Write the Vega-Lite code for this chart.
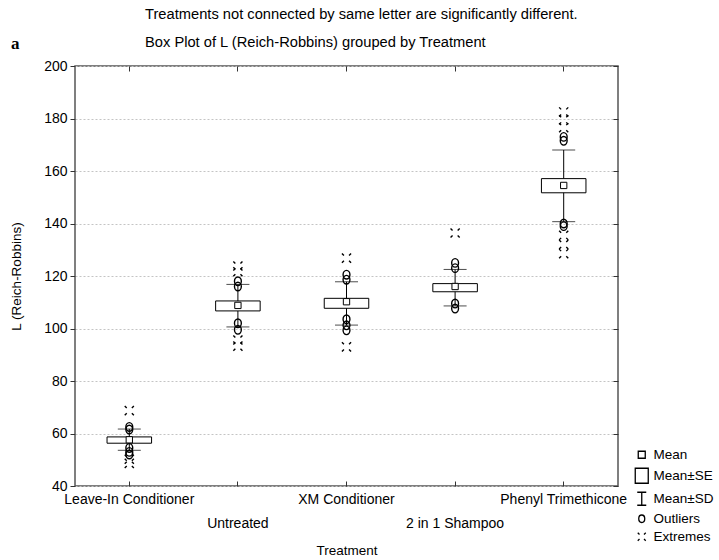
{
  "$schema": "https://vega.github.io/schema/vega-lite/v6.json",
  "background": "white",
  "padding": {"left": 8, "top": 6, "right": 2, "bottom": 2},
  "title": {"text": "a", "font": "Liberation Serif", "fontSize": 17, "fontWeight": "bold", "anchor": "start", "frame": "bounds", "dy": 50, "dx": 2, "color": "black"},
  "datasets": {
    "stats": [
      {"Treatment": "Leave-In Conditioner", "mean": 57.6, "se_lo": 56.3, "se_hi": 58.7, "sd_lo": 53.6, "sd_hi": 61.7},
      {"Treatment": "Untreated", "mean": 108.8, "se_lo": 106.7, "se_hi": 110.5, "sd_lo": 100.6, "sd_hi": 116.8},
      {"Treatment": "XM Conditioner", "mean": 110.2, "se_lo": 107.7, "se_hi": 111.5, "sd_lo": 101.3, "sd_hi": 117.8},
      {"Treatment": "2 in 1 Shampoo", "mean": 116.0, "se_lo": 114.0, "se_hi": 117.1, "sd_lo": 108.6, "sd_hi": 122.5},
      {"Treatment": "Phenyl Trimethicone", "mean": 154.5, "se_lo": 151.7, "se_hi": 157.1, "sd_lo": 140.7, "sd_hi": 168.0}
    ],
    "pts": [
      {"Treatment": "Leave-In Conditioner", "L": 62.5, "Type": "Outliers"},
      {"Treatment": "Leave-In Conditioner", "L": 61.5, "Type": "Outliers"},
      {"Treatment": "Leave-In Conditioner", "L": 54.5, "Type": "Outliers"},
      {"Treatment": "Leave-In Conditioner", "L": 53.0, "Type": "Outliers"},
      {"Treatment": "Leave-In Conditioner", "L": 52.0, "Type": "Outliers"},
      {"Treatment": "Leave-In Conditioner", "L": 68.7, "Type": "Extremes"},
      {"Treatment": "Leave-In Conditioner", "L": 50.2, "Type": "Extremes"},
      {"Treatment": "Leave-In Conditioner", "L": 48.6, "Type": "Extremes"},
      {"Treatment": "Untreated", "L": 118.0, "Type": "Outliers"},
      {"Treatment": "Untreated", "L": 116.0, "Type": "Outliers"},
      {"Treatment": "Untreated", "L": 102.0, "Type": "Outliers"},
      {"Treatment": "Untreated", "L": 99.5, "Type": "Outliers"},
      {"Treatment": "Untreated", "L": 123.8, "Type": "Extremes"},
      {"Treatment": "Untreated", "L": 121.6, "Type": "Extremes"},
      {"Treatment": "Untreated", "L": 95.6, "Type": "Extremes"},
      {"Treatment": "Untreated", "L": 93.3, "Type": "Extremes"},
      {"Treatment": "XM Conditioner", "L": 120.5, "Type": "Outliers"},
      {"Treatment": "XM Conditioner", "L": 118.6, "Type": "Outliers"},
      {"Treatment": "XM Conditioner", "L": 103.5, "Type": "Outliers"},
      {"Treatment": "XM Conditioner", "L": 101.2, "Type": "Outliers"},
      {"Treatment": "XM Conditioner", "L": 99.3, "Type": "Outliers"},
      {"Treatment": "XM Conditioner", "L": 126.8, "Type": "Extremes"},
      {"Treatment": "XM Conditioner", "L": 93.0, "Type": "Extremes"},
      {"Treatment": "2 in 1 Shampoo", "L": 125.0, "Type": "Outliers"},
      {"Treatment": "2 in 1 Shampoo", "L": 123.0, "Type": "Outliers"},
      {"Treatment": "2 in 1 Shampoo", "L": 109.5, "Type": "Outliers"},
      {"Treatment": "2 in 1 Shampoo", "L": 107.6, "Type": "Outliers"},
      {"Treatment": "2 in 1 Shampoo", "L": 136.4, "Type": "Extremes"},
      {"Treatment": "Phenyl Trimethicone", "L": 173.0, "Type": "Outliers"},
      {"Treatment": "Phenyl Trimethicone", "L": 171.5, "Type": "Outliers"},
      {"Treatment": "Phenyl Trimethicone", "L": 140.0, "Type": "Outliers"},
      {"Treatment": "Phenyl Trimethicone", "L": 139.0, "Type": "Outliers"},
      {"Treatment": "Phenyl Trimethicone", "L": 182.5, "Type": "Extremes"},
      {"Treatment": "Phenyl Trimethicone", "L": 179.5, "Type": "Extremes"},
      {"Treatment": "Phenyl Trimethicone", "L": 176.5, "Type": "Extremes"},
      {"Treatment": "Phenyl Trimethicone", "L": 135.5, "Type": "Extremes"},
      {"Treatment": "Phenyl Trimethicone", "L": 132.0, "Type": "Extremes"},
      {"Treatment": "Phenyl Trimethicone", "L": 128.5, "Type": "Extremes"}
    ]
  },
  "config": {
    "font": "Liberation Sans",
    "view": {"stroke": "#555", "strokeWidth": 1.5},
    "axis": {"labelColor": "black", "titleColor": "black", "tickColor": "#333", "labelFont": "Liberation Sans", "titleFont": "Liberation Sans", "titleFontWeight": "normal"},
    "legend": {"labelFont": "Liberation Sans"}
  },
  "vconcat": [
    {
      "width": 543,
      "height": 420,
      "title": {
        "text": ["Treatments not connected by same letter are significantly different.", "Box Plot of L (Reich-Robbins) grouped by  Treatment"],
        "anchor": "start",
        "frame": "group",
        "dx": 70,
        "fontSize": 14.7,
        "fontWeight": "normal",
        "lineHeight": 28,
        "color": "black",
        "offset": 9
      },
      "resolve": {"axis": {"x": "independent", "y": "independent"}},
      "layer": [
        {
          "data": {"name": "stats"},
          "mark": {"type": "rule", "color": "black", "strokeWidth": 1},
          "encoding": {
            "x": {"field": "Treatment", "type": "nominal", "sort": ["Leave-In Conditioner", "Untreated", "XM Conditioner", "2 in 1 Shampoo", "Phenyl Trimethicone"], "scale": {"paddingInner": 0, "paddingOuter": 0}, "title": "Treatment",
              "axis": {"orient": "bottom", "labelAngle": 0, "labelFontSize": 14, "labelExpr": "datum.value == 'Untreated' || datum.value == '2 in 1 Shampoo' ? ['', datum.value] : datum.value", "labelLineHeight": 24, "labelOverlap": false, "tickSize": -5, "labelPadding": 11, "domain": false, "titleFontSize": 13.5, "titlePadding": 13, "grid": false}},
            "y": {"field": "sd_lo", "type": "quantitative", "scale": {"domain": [40, 200], "nice": false, "zero": false}, "title": "L (Reich-Robbins)",
              "axis": {"orient": "left", "values": [40, 60, 80, 100, 120, 140, 160, 180, 200], "labelFontSize": 14, "tickSize": 5, "labelPadding": 3, "grid": true, "gridColor": "#c4c4c4", "gridDash": [2, 2], "domain": false, "titleFontSize": 13.5, "titlePadding": 20}},
            "y2": {"field": "sd_hi"}
          }
        },
        {
          "data": {"name": "stats"},
          "mark": {"type": "tick", "color": "black", "size": 23, "thickness": 1},
          "encoding": {
            "x": {"field": "Treatment", "type": "nominal", "sort": ["Leave-In Conditioner", "Untreated", "XM Conditioner", "2 in 1 Shampoo", "Phenyl Trimethicone"], "title": null,
              "axis": {"orient": "top", "labels": false, "tickSize": -5, "domain": false, "grid": false, "title": null}},
            "y": {"field": "sd_hi", "type": "quantitative", "title": null,
              "axis": {"orient": "right", "values": [40, 60, 80, 100, 120, 140, 160, 180, 200], "labels": false, "tickSize": -5, "domain": false, "grid": false, "title": null}}
          }
        },
        {
          "data": {"name": "stats"},
          "mark": {"type": "tick", "color": "black", "size": 23, "thickness": 1},
          "encoding": {
            "x": {"field": "Treatment", "type": "nominal", "sort": ["Leave-In Conditioner", "Untreated", "XM Conditioner", "2 in 1 Shampoo", "Phenyl Trimethicone"], "axis": null},
            "y": {"field": "sd_lo", "type": "quantitative", "axis": null}
          }
        },
        {
          "data": {"name": "stats"},
          "mark": {"type": "bar", "fill": "white", "stroke": "black", "strokeWidth": 1, "width": {"band": 0.41}},
          "encoding": {
            "x": {"field": "Treatment", "type": "nominal", "sort": ["Leave-In Conditioner", "Untreated", "XM Conditioner", "2 in 1 Shampoo", "Phenyl Trimethicone"], "axis": null},
            "y": {"field": "se_lo", "type": "quantitative", "axis": null},
            "y2": {"field": "se_hi"}
          }
        },
        {
          "data": {"name": "stats"},
          "mark": {"type": "point", "shape": "square", "size": 40, "filled": true, "fill": "white", "stroke": "black", "strokeWidth": 1, "opacity": 1},
          "encoding": {
            "x": {"field": "Treatment", "type": "nominal", "sort": ["Leave-In Conditioner", "Untreated", "XM Conditioner", "2 in 1 Shampoo", "Phenyl Trimethicone"], "axis": null},
            "y": {"field": "mean", "type": "quantitative", "axis": null}
          }
        },
        {
          "data": {"name": "pts"},
          "mark": {"type": "point", "filled": false, "color": "black", "size": 130, "strokeWidth": 1.4, "opacity": 1},
          "encoding": {
            "x": {"field": "Treatment", "type": "nominal", "sort": ["Leave-In Conditioner", "Untreated", "XM Conditioner", "2 in 1 Shampoo", "Phenyl Trimethicone"], "axis": null},
            "y": {"field": "L", "type": "quantitative", "axis": null},
            "shape": {"field": "Type", "type": "nominal",
              "scale": {"domain": ["Mean", "Mean±SE", "Mean±SD", "Outliers", "Extremes"],
                "range": [
                  "M-0.7,-0.7L0.7,-0.7L0.7,0.7L-0.7,0.7Z",
                  "M-1.3,-1.5L1.3,-1.5L1.3,1.5L-1.3,1.5Z",
                  "M-0.9,-1.3L0.9,-1.3M0,-1.3L0,1.3M-0.9,1.3L0.9,1.3",
                  "M0,-0.75A0.6,0.75 0 1,1 0,0.75A0.6,0.75 0 1,1 0,-0.75Z",
                  "M-0.8,-0.8L-0.45,-0.45M0.45,-0.45L0.8,-0.8M-0.8,0.8L-0.45,0.45M0.45,0.45L0.8,0.8"
                ]},
              "legend": {"orient": "none", "legendX": 560, "legendY": 382, "title": null, "symbolSize": 100, "symbolStrokeColor": "black", "symbolStrokeWidth": 1.3, "symbolFillColor": "transparent", "labelFontSize": 13.5, "labelColor": "black", "rowPadding": 3, "labelOffset": 5}}
          }
        }
      ]
    }
  ]
}
